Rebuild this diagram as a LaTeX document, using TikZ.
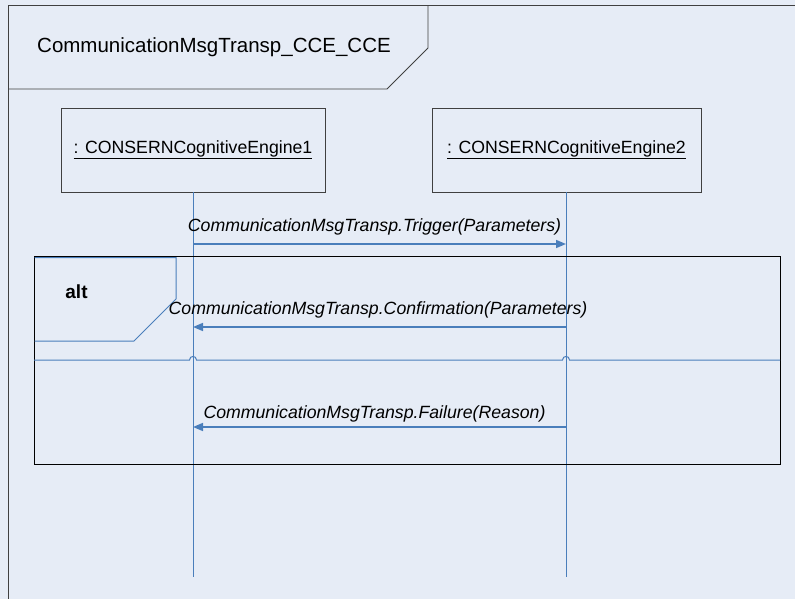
\documentclass[tikz,border=0pt]{standalone}
\usepackage{fontspec}
\setmainfont{Liberation Sans}
\usetikzlibrary{arrows.meta}
\definecolor{bgc}{RGB}{230,236,246}
\definecolor{lnblue}{RGB}{74,126,187}
\definecolor{frm}{RGB}{64,64,64}
\tikzset{
  lbox/.style={draw=frm,line width=0.9pt,fill=bgc,minimum width=264pt,minimum height=84pt,inner sep=0pt,outer sep=0pt,
    font=\fontsize{17.7}{20}\selectfont},
  lifeline/.style={draw=lnblue,line width=1pt},
  msgarrow/.style={draw=lnblue,line width=1.5pt,-{Triangle[length=10pt,width=8pt]}},
  msglabel/.style={inner sep=0pt,font=\fontsize{17.7}{20}\selectfont\itshape},
  bluethin/.style={draw=lnblue,line width=1pt},
}
\begin{document}
\begin{tikzpicture}[x=1pt,y=-1pt]
\useasboundingbox (0,0) rectangle (795,599);
\fill[bgc] (0,0) rectangle (795,599);
% outer frame
\draw[frm,line width=1.6pt] (8.5,599) -- (8.5,5.5) -- (795,5.5);
% title tab
\draw[frm,line width=0.9pt] (8.5,5.5) -- (428,5.5) -- (428,48) -- (387,89) -- (8.5,89);
\node[inner sep=0pt,font=\fontsize{20.5}{24}\selectfont] (title) at (214,47) {CommunicationMsgTransp\_CCE\_CCE};
% lifeline heads
\node[lbox] (e1) at (193,150) {\underline{: CONSERNCognitiveEngine1}};
\node[lbox,minimum width=269pt] (e2) at (566.5,150) {\underline{: CONSERNCognitiveEngine2}};
\coordinate (e1end) at (193,577);
\coordinate (e2end) at (566,577);
\draw[lifeline] (e1.south) -- (e1end);
\draw[lifeline] (e2.south -| e2end) -- (e2end);
% alt frame
\node[draw=black,line width=0.8pt,minimum width=746pt,minimum height=208pt,inner sep=0pt,outer sep=0pt] (altf) at (407,360) {};
\draw[bluethin] (34.5,257.5) -- (176,257.5) -- (176,299) -- (134,341) -- (34.5,341);
\node[inner sep=0pt,font=\fontsize{19}{22}\selectfont\bfseries] (altlbl) at (76.5,292) {alt};
% separator with hops
\coordinate (sepL) at (34,360);
\coordinate (sepR) at (780,360);
\draw[bluethin] (sepL) -- (189.5,360) .. controls (189.5,355.3) and (196.5,355.3) .. (196.5,360)
  -- (562.5,360) .. controls (562.5,355.3) and (569.5,355.3) .. (569.5,360) -- (sepR);
% messages
\coordinate (m1a) at (193,244); \coordinate (m1b) at (566,244);
\coordinate (m2a) at (566,327); \coordinate (m2b) at (193,327);
\coordinate (m3a) at (566,427); \coordinate (m3b) at (193,427);
\draw[msgarrow] (m1a) -- (m1b);
\draw[msgarrow] (m2a) -- (m2b);
\draw[msgarrow] (m3a) -- (m3b);
\node[msglabel] (l1) at (374.5,227) {CommunicationMsgTransp.Trigger(Parameters)};
\node[msglabel] (l2) at (378,310) {CommunicationMsgTransp.Confirmation(Parameters)};
\node[msglabel] (l3) at (374.5,414) {CommunicationMsgTransp.Failure(Reason)};
\end{tikzpicture}
\end{document}
